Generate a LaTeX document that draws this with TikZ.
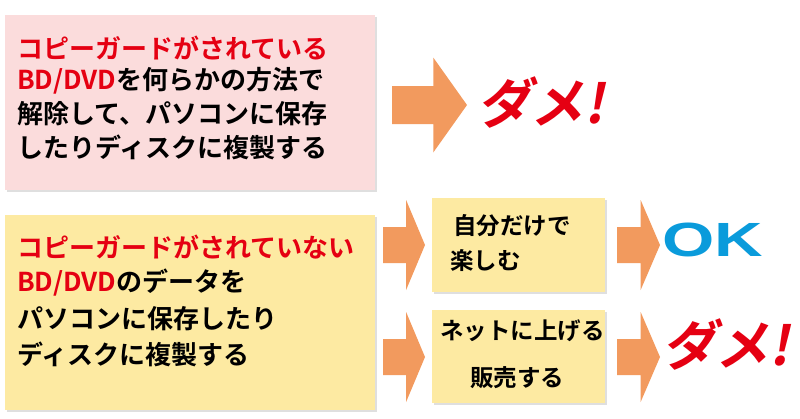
\documentclass[tikz,border=0pt]{standalone}
\usepackage{fontspec}
\newfontfamily\jp{Noto Sans CJK JP Bold}
\usetikzlibrary{shadows}
\definecolor{dred}{HTML}{E50012}
\definecolor{pinkbg}{HTML}{FBDCDC}
\definecolor{yelbg}{HTML}{FDEAA2}
\definecolor{arr}{HTML}{F29A5E}
\definecolor{okblue}{HTML}{0A9BDB}
\tikzset{
 box/.style={fill=#1,draw=none,drop shadow={shadow xshift=2pt,shadow yshift=-2pt,opacity=0.25}},
 txt/.style={anchor=west,font=\jp\fontsize{26}{28}\selectfont,inner sep=0pt},
 stxt/.style={anchor=west,font=\jp\fontsize{23.5}{26}\selectfont,inner sep=0pt},
 bad/.style={font=\jp\fontsize{54}{58}\selectfont,text=dred,xslant=0.2,inner sep=0pt},
}
\begin{document}
\begin{tikzpicture}[x=1pt,y=-1pt]
\useasboundingbox (0,0) rectangle (800,418);
% boxes
\path[box=pinkbg] (5,15) rectangle (375,190);
\path[box=yelbg] (5,215) rectangle (375,410);
\path[box=yelbg] (432,198) rectangle (605,292);
\path[box=yelbg] (432,310) rectangle (605,403);
% arrows
\newcommand{\bigarrow}[4]{\fill[arr] (#1,#2-0.2*#4) -- (#1+0.55*#3,#2-0.2*#4) -- (#1+0.55*#3,#2-0.5*#4) -- (#1+#3,#2) -- (#1+0.55*#3,#2+0.5*#4) -- (#1+0.55*#3,#2+0.2*#4) -- (#1,#2+0.2*#4) -- cycle;}
\bigarrow{392}{105}{75}{95}
\bigarrow{383}{245}{42}{90}
\bigarrow{383}{357}{42}{90}
\bigarrow{617}{245}{43}{90}
\bigarrow{617}{357}{43}{90}
% texts
\node[txt,text=dred] (t1) at (17,48) {コピーガードがされている};
\node[txt,text=dred] (t2) at (17,81) {BD/DVD\textcolor{black}{を何らかの方法で}};
\node[txt] (t3) at (17,114) {解除して、パソコンに保存};
\node[txt] (t4) at (17,147) {したりディスクに複製する};
\node[txt,text=dred] (u1) at (17,247) {コピーガードがされていない};
\node[txt,text=dred] (u2) at (17,283) {BD/DVD\textcolor{black}{のデータを}};
\node[txt] (u3) at (17,319) {パソコンに保存したり};
\node[txt] (u4) at (17,354) {ディスクに複製する};
\node[stxt] (s1) at (453,226) {自分だけで};
\node[stxt] (s2) at (450,261) {楽しむ};
\node[stxt] (s3) at (440,331) {ネットに上げる};
\node[stxt] (s4) at (470,378) {販売する};
\node[bad] (d1) at (545,103) {ダメ!};
\node[bad] (d2) at (730,345) {ダメ!};
\node[font=\fontspec{Liberation Sans Bold}\fontsize{48}{50}\selectfont,text=okblue,inner sep=0pt,xscale=1.4] (ok) at (713,240) {OK};
\end{tikzpicture}
\end{document}
